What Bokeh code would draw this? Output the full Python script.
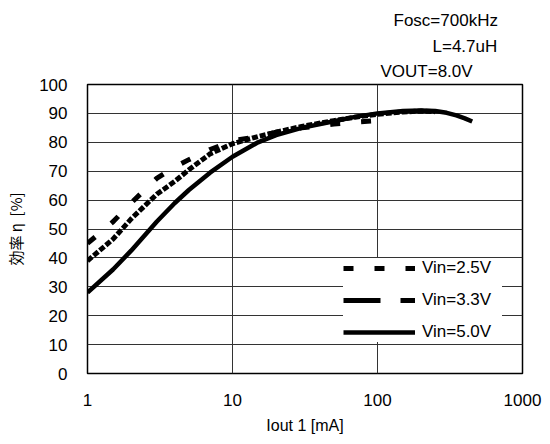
from bokeh.plotting import figure
from bokeh.models import Legend, LegendItem, Title, FixedTicker
from bokeh.embed import file_html
from bokeh.resources import INLINE

# Efficiency vs. output current for three input voltages
iout_25 = [1, 1.5, 2, 3, 4, 5, 7, 10, 15, 20, 30, 50, 70, 100, 110]
eff_25 = [45, 52.5, 59, 67.5, 71.5, 74, 77.5, 80.5, 82, 83.5, 85, 86.3, 87, 87.5, 87.8]

iout_33 = [1, 1.5, 2, 3, 4, 5, 7, 10, 15, 20, 30, 50, 70, 100, 150, 200, 250]
eff_33 = [39, 46.5, 53.5, 62, 66.5, 70.5, 76, 79.5, 82, 83.5, 85.5, 87.5, 88.7, 89.7, 90.5, 90.8, 90.6]

iout_50 = [1, 1.5, 2, 3, 4, 5, 7, 10, 15, 20, 30, 50, 70, 100, 150, 200, 250, 300, 350, 400, 450]
eff_50 = [28, 36, 42.5, 52.5, 59, 63.5, 69.5, 75, 80, 82.5, 85, 87.3, 88.8, 90, 90.8, 91, 90.8, 90.2, 89.3, 88.3, 87.2]

x_ticks = [1, 10, 100, 1000]
x_tick_labels = ["1", "10", "100", "1000"]
y_ticks = [0, 10, 20, 30, 40, 50, 60, 70, 80, 90, 100]

conditions = ["Fosc=700kHz", "L=4.7uH", "VOUT=8.0V"]
series_labels = ["Vin=2.5V", "Vin=3.3V", "Vin=5.0V"]

FONT = "Liberation Sans"

p = figure(width=550, height=444, x_axis_type="log", x_range=(1, 1000), y_range=(0, 100),
           output_backend="svg", toolbar_location=None,
           min_border_left=87, min_border_right=28, min_border_top=84, min_border_bottom=71)

p.background_fill_color = "white"
p.border_fill_color = "white"
p.outline_line_color = "black"
p.outline_line_width = 1.5

p.xaxis.ticker = FixedTicker(ticks=x_ticks)
p.xaxis.major_label_overrides = {t: s for t, s in zip(x_ticks, x_tick_labels)}
p.yaxis.ticker = FixedTicker(ticks=y_ticks)

for ax in (p.xaxis[0], p.yaxis[0]):
    ax.axis_line_color = None
    ax.major_tick_line_color = None
    ax.minor_tick_line_color = None
    ax.major_label_text_font = FONT
    ax.major_label_text_font_size = "17px"
    ax.major_label_text_color = "black"
    ax.axis_label_text_color = "black"
    ax.axis_label_text_font_style = "normal"

p.xaxis.major_label_standoff = 14
p.xaxis.axis_label = "Iout 1 [mA]"
p.xaxis.axis_label_text_font = FONT
p.xaxis.axis_label_text_font_size = "16px"
p.xaxis.axis_label_standoff = 8

p.yaxis.major_label_standoff = 14
p.yaxis.axis_label = "効率 η \u00a0[%]"
p.yaxis.axis_label_text_font = "Noto Sans CJK JP"
p.yaxis.axis_label_text_font_size = "15px"
p.yaxis.axis_label_standoff = 10

p.xgrid.grid_line_color = "#333333"
p.ygrid.grid_line_color = "#333333"
p.xgrid.grid_line_width = 1
p.ygrid.grid_line_width = 1
p.xgrid.minor_grid_line_color = None

r25 = p.line(iout_25, eff_25, line_color="black", line_width=5, line_dash="10 21", line_cap="butt")
r33 = p.line(iout_33, eff_33, line_color="black", line_width=5, line_dash="6 2", line_cap="butt")
r50 = p.line(iout_50, eff_50, line_color="black", line_width=4.5, line_join="round")

# hidden copy of the 3.3 V series that carries the long-dash legend swatch
leg33 = p.line(iout_33, eff_33, line_color="black", line_width=5, line_dash="37 20",
               line_cap="butt", visible=False)

legend = Legend(items=[LegendItem(label=series_labels[0], renderers=[r25]),
                       LegendItem(label=series_labels[1], renderers=[leg33]),
                       LegendItem(label=series_labels[2], renderers=[r50])],
                location=(256, 31), glyph_width=72, glyph_height=20, label_height=20,
                label_width=80, label_standoff=7, spacing=12, padding=6, margin=0,
                background_fill_color="white", background_fill_alpha=1.0,
                border_line_color=None, label_text_font=FONT,
                label_text_font_size="17px", label_text_color="black",
                inactive_fill_alpha=0.0, click_policy="none")
p.add_layout(legend, "center")

# test conditions above the plot area, stacked upward from the frame
cond_offsets = [306, 345, 293]
cond_standoffs = [6, 5, 3]
for txt, off, so in reversed(list(zip(conditions, cond_offsets, cond_standoffs))):
    p.add_layout(Title(text=txt, align="left", vertical_align="top", offset=off, standoff=so,
                       text_font=FONT, text_font_size="17px", text_font_style="normal",
                       text_color="black"), "above")

open("out.html", "w").write(file_html(p, INLINE))
